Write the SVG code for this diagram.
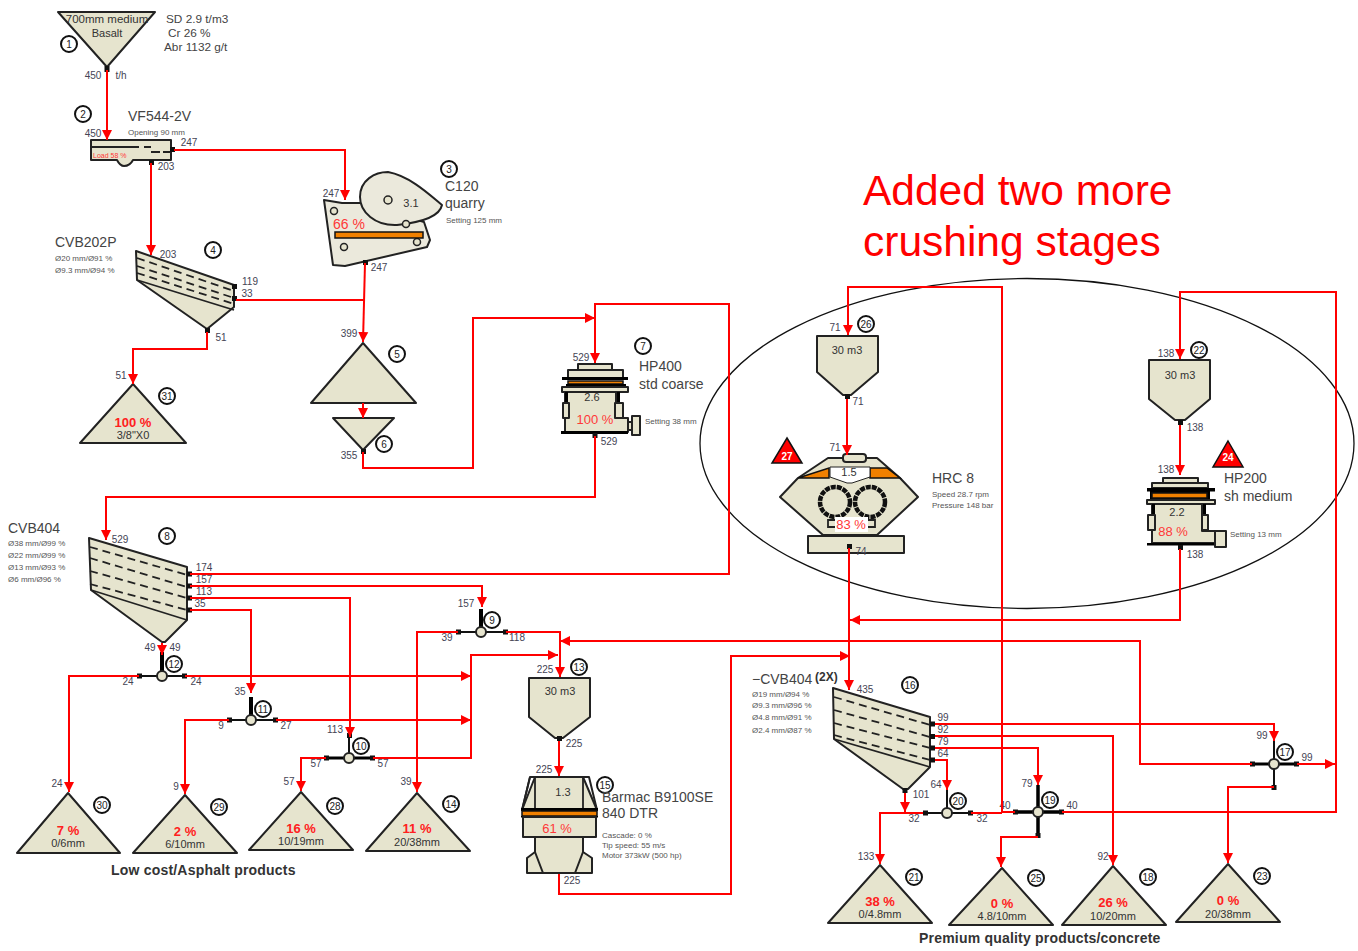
<svg xmlns="http://www.w3.org/2000/svg" width="1358" height="951" viewBox="0 0 1358 951">
<style>
text{font-family:"Liberation Sans",Arial,sans-serif;fill:#333}
.s{fill:#e6e4ce;stroke:#222;stroke-width:2;stroke-linejoin:round}
.m{fill:#ebe9dc;stroke:#222;stroke-width:2;stroke-linejoin:round}
.k{fill:#000}
.o{fill:#f08000;stroke:#111;stroke-width:1.5}
.p{fill:#111}
.d{fill:none;stroke:#222;stroke-width:1.8;stroke-dasharray:8 5}
.t{fill:none;stroke:#222;stroke-width:1.8}
.a{fill:none;stroke:#111;stroke-width:2}
.h{fill:none;stroke:#000;stroke-width:4}
.hole{fill:#e6e4ce;stroke:#222;stroke-width:1.5}
.n{fill:#fff;stroke:#111;stroke-width:2}
.nt{font-size:10px;text-anchor:middle;fill:#222}
.l{font-size:10px;text-anchor:middle;fill:#445}
.t12{font-size:14px;fill:#444}
.t10{font-size:11.8px;fill:#444}
.t6{font-size:8px;fill:#555}
.v{font-size:11px;text-anchor:middle;fill:#333}
.pct{font-size:13px;font-weight:bold;text-anchor:middle;fill:#ff2020}
.pl{font-size:13px;text-anchor:middle;fill:#ff3838}
.b{font-size:14px;font-weight:bold;fill:#333;letter-spacing:.2px}
.b2{font-size:12px;font-weight:bold;fill:#333}
.w{font-size:10px;text-anchor:middle;fill:#fff;font-weight:bold}
.c{fill:none;stroke:#ff0000;stroke-width:2;marker-end:url(#ar)}
.f{fill:none;stroke:#ff0000;stroke-width:2}
</style>
<defs>
<marker id="ar" markerUnits="userSpaceOnUse" markerWidth="11" markerHeight="11" viewBox="0 0 11 11" refX="10" refY="5.5" orient="auto"><path d="M0 0.5L10 5.5L0 10.5Z" fill="#ff0000"/></marker>
</defs>

<g id="annotation">
<ellipse cx="1027" cy="443.5" rx="327" ry="165" fill="none" stroke="#111" stroke-width="1.3"/>
<text x="863" y="205" font-size="42.500" style="fill:#ff0000">Added two more</text>
<text x="863" y="256" font-size="42.500" style="fill:#ff0000">crushing stages</text>
<text x="111" y="875" class="b">Low cost/Asphalt products</text>
<text x="919" y="943" class="b">Premium quality products/concrete</text>
</g>

<g id="n1"><polygon class="s" points="58,12 155,12 107,67"/><rect class="p" x="104.500" y="66" width="5" height="6"/>
<text x="107" y="23" class="v" style="font-size:11.5px">700mm medium</text><text x="107" y="37" class="v">Basalt</text>
<circle class="n" cx="69" cy="44" r="8"/><text x="69" y="48" class="nt">1</text>
<text x="166" y="23" class="t10">SD 2.9 t/m3</text><text x="168" y="37" class="t10">Cr 26 %</text><text x="164" y="51" class="t10">Abr 1132 g/t</text>
<text x="93" y="79" class="l">450</text><text x="121" y="79" class="l">t/h</text></g>

<g id="n2"><path class="s" d="M91 140H171V160H133Q130 166 124 166Q120 166 117 160H91Z"/>
<path class="t" d="M92 147H139M144 147H151M151 152H160M163 152H170"/>
<rect class="p" x="170" y="147" width="5" height="5"/><rect class="p" x="149" y="160" width="5" height="5"/>
<text x="93" y="158" font-size="7" style="fill:#ff3838">Load 58 %</text>
<circle class="n" cx="83" cy="114" r="8"/><text x="83" y="118" class="nt">2</text>
<text x="128" y="121" class="t12">VF544-2V</text><text x="128" y="135" class="t6">Opening 90 mm</text>
<text x="93" y="137" class="l">450</text><text x="189" y="146" class="l">247</text><text x="166" y="170" class="l">203</text></g>

<g id="n3"><polygon class="m" points="324,200 342,203 362,203 424,222 430,240 427,247 345,266 333,265"/>
<path class="m" d="M360 197C360 180 375 172 388 172C410 176 430 195 442 205C440 215 425 222 397 225C375 226 360 212 360 197Z"/>
<circle class="hole" cx="334" cy="211" r="3.500"/><circle class="hole" cx="344" cy="247" r="3.500"/><circle class="hole" cx="388" cy="200" r="4"/><circle class="hole" cx="406" cy="224" r="3.500"/><circle class="hole" cx="417" cy="242" r="3.500"/>
<rect class="o" x="335" y="232" width="88" height="6"/>
<rect class="p" x="363" y="260" width="5" height="5"/>
<text x="411" y="207" class="v">3.1</text><text x="349" y="229" class="pl" style="font-size:14px">66 %</text>
<circle class="n" cx="449" cy="169" r="8"/><text x="449" y="173" class="nt">3</text>
<text x="445" y="191" class="t12">C120</text><text x="445" y="208" class="t12">quarry</text><text x="446" y="223" class="t6">Setting 125 mm</text>
<text x="331" y="197" class="l">247</text><text x="379" y="271" class="l">247</text></g>

<g id="n4"><polygon class="s" points="136,251 234,285 234,307 207,329 137,280"/>
<path class="d" d="M137 258L234 291M137 266L234 298M137 273L234 304"/><path class="t" d="M137 280L234 310"/>
<rect class="p" x="232" y="284" width="5" height="5"/><rect class="p" x="232" y="296" width="5" height="5"/><rect class="p" x="205" y="328" width="5" height="5"/>
<circle class="n" cx="213" cy="250" r="8"/><text x="213" y="254" class="nt">4</text>
<text x="55" y="247" class="t12">CVB202P</text><text x="55" y="261" class="t6">Ø20 mm/Ø91 %</text><text x="55" y="273" class="t6">Ø9.3 mm/Ø94 %</text>
<text x="168" y="258" class="l">203</text><text x="250" y="285" class="l">119</text><text x="247" y="297" class="l">33</text><text x="221" y="341" class="l">51</text></g>

<g id="n31"><polygon class="s" points="133,384 186,443 80,443"/><text x="133" y="427" class="pct">100 %</text><text x="133" y="439" class="v">3/8"X0</text>
<circle class="n" cx="167" cy="396" r="8"/><text x="167" y="400" class="nt">31</text><text x="121" y="379" class="l">51</text></g>

<g id="n5"><polygon class="s" points="363,343 416,403 311,403"/><circle class="n" cx="397" cy="354" r="8"/><text x="397" y="358" class="nt">5</text><text x="349" y="337" class="l">399</text></g>
<g id="n6"><polygon class="s" points="333,418 394,418 363,450"/><rect class="p" x="361" y="449" width="5" height="5"/><circle class="n" cx="384" cy="444" r="8"/><text x="384" y="448" class="nt">6</text><text x="349" y="459" class="l">355</text></g>

<g id="n7"><path class="s" d="M565 392H616V418H628V432H565Z"/>
<rect class="s" x="578" y="364" width="34" height="6"/><rect class="s" x="568" y="370" width="55" height="8"/>
<rect class="k" x="562" y="377" width="66" height="3"/><rect class="o" x="568" y="381" width="55" height="3"/><rect class="k" x="566" y="384" width="60" height="3"/>
<rect class="s" x="562" y="387" width="66" height="5"/><rect class="k" x="561" y="431" width="67" height="3"/>
<rect class="k" x="565" y="392" width="3" height="11"/><rect class="k" x="617" y="392" width="3" height="11"/>
<rect class="s" x="563" y="403" width="6" height="15"/><rect class="s" x="615" y="403" width="8" height="15"/>
<rect class="s" x="628" y="422" width="4" height="8"/><rect class="s" x="632" y="416" width="8" height="19"/>
<rect class="p" x="592.500" y="433" width="5" height="5"/>
<text x="592" y="401" class="v">2.6</text><text x="595" y="424" class="pl">100 %</text>
<circle class="n" cx="643" cy="346" r="8"/><text x="643" y="350" class="nt">7</text>
<text x="639" y="371" class="t12">HP400</text><text x="639" y="389" class="t12">std coarse</text><text x="645" y="424" class="t6">Setting 38 mm</text>
<text x="581" y="361" class="l">529</text><text x="609" y="445" class="l">529</text></g>

<g id="n8"><polygon class="s" points="89,538 187,567 187,620 165,642 162,642 91,590"/>
<path class="d" d="M90 547L187 575M90 558L187 587M90 571L187 598M90 584L187 610"/><path class="t" d="M91 590L187 620"/>
<rect class="p" x="187" y="571.500" width="5" height="5"/><rect class="p" x="187" y="583.500" width="5" height="5"/><rect class="p" x="187" y="595.500" width="5" height="5"/><rect class="p" x="187" y="607.500" width="5" height="5"/>
<circle class="n" cx="167" cy="536" r="8"/><text x="167" y="540" class="nt">8</text>
<text x="8" y="533" class="t12">CVB404</text><text x="8" y="546" class="t6">Ø38 mm/Ø99 %</text><text x="8" y="558" class="t6">Ø22 mm/Ø99 %</text><text x="8" y="570" class="t6">Ø13 mm/Ø93 %</text><text x="8" y="582" class="t6">Ø6 mm/Ø96 %</text>
<text x="120" y="543" class="l">529</text><text x="204" y="571" class="l">174</text><text x="204" y="583" class="l">157</text><text x="204" y="595" class="l">113</text><text x="200" y="607" class="l">35</text></g>

<g id="n12"><path class="h" d="M162 652V672"/><path class="a" d="M139 676H184"/><circle class="s" cx="162" cy="676" r="5"/><rect class="p" x="137" y="673.500" width="5" height="5"/><rect class="p" x="182" y="673.500" width="5" height="5"/>
<circle class="n" cx="174" cy="664" r="8"/><text x="174" y="668" class="nt">12</text>
<text x="150" y="651" class="l">49</text><text x="175" y="651" class="l">49</text><text x="128" y="685" class="l">24</text><text x="196" y="685" class="l">24</text></g>

<g id="n11"><path class="h" d="M251 697V716"/><path class="a" d="M229 720H275"/><circle class="s" cx="251" cy="720" r="5"/><rect class="p" x="227" y="717.500" width="5" height="5"/><rect class="p" x="273" y="717.500" width="5" height="5"/>
<circle class="n" cx="263" cy="709" r="8"/><text x="263" y="713" class="nt">11</text>
<text x="240" y="695" class="l">35</text><text x="221" y="729" class="l">9</text><text x="286" y="729" class="l">27</text></g>

<g id="n10"><path class="a" d="M349 735V754"/><path class="h" d="M326 758H372" style="stroke-width:3"/><circle class="s" cx="349" cy="758" r="5"/><rect class="p" x="324" y="755.500" width="5" height="5"/><rect class="p" x="370" y="755.500" width="5" height="5"/><rect class="p" x="347" y="733" width="5" height="5"/>
<circle class="n" cx="361" cy="746" r="8"/><text x="361" y="750" class="nt">10</text>
<text x="335" y="733" class="l">113</text><text x="316" y="767" class="l">57</text><text x="383" y="767" class="l">57</text></g>

<g id="n9"><path class="h" d="M481 609V628"/><path class="a" d="M458 632H505"/><circle class="s" cx="481" cy="632" r="5"/><rect class="p" x="456" y="629.500" width="5" height="5"/><rect class="p" x="503" y="629.500" width="5" height="5"/>
<circle class="n" cx="492" cy="620" r="8"/><text x="492" y="624" class="nt">9</text>
<text x="466" y="607" class="l">157</text><text x="447" y="641" class="l">39</text><text x="517" y="641" class="l">118</text></g>

<g id="n30"><polygon class="s" points="68,793 120,853 17,853"/><text x="68" y="835" class="pct">7 %</text><text x="68" y="847" class="v">0/6mm</text><circle class="n" cx="102" cy="805" r="8"/><text x="102" y="809" class="nt">30</text><text x="57" y="787" class="l">24</text></g>
<g id="n29"><polygon class="s" points="185,795 237,853 133,853"/><text x="185" y="836" class="pct">2 %</text><text x="185" y="848" class="v">6/10mm</text><circle class="n" cx="219" cy="807" r="8"/><text x="219" y="811" class="nt">29</text><text x="176" y="790" class="l">9</text></g>
<g id="n28"><polygon class="s" points="301,792 353,850 249,850"/><text x="301" y="833" class="pct">16 %</text><text x="301" y="845" class="v">10/19mm</text><circle class="n" cx="335" cy="806" r="8"/><text x="335" y="810" class="nt">28</text><text x="289" y="785" class="l">57</text></g>
<g id="n14"><polygon class="s" points="417,793 470,851 366,851"/><text x="417" y="833" class="pct">11 %</text><text x="417" y="846" class="v">20/38mm</text><circle class="n" cx="451" cy="804" r="8"/><text x="451" y="808" class="nt">14</text><text x="406" y="785" class="l">39</text></g>

<g id="n13"><polygon class="s" points="529,678 590,678 590,717 563,738 555,738 529,717"/><text x="560" y="695" class="v">30 m3</text><rect class="p" x="557" y="736" width="5" height="5"/>
<circle class="n" cx="579" cy="667" r="8"/><text x="579" y="671" class="nt">13</text><text x="545" y="673" class="l">225</text><text x="574" y="747" class="l">225</text></g>

<g id="n15"><polygon class="s" points="535,777 583,777 597,810 522,810"/><path class="t" d="M530 777L522 810M535 777V810M583 777V810"/><path class="s" d="M530 777H589L597 810H522Z" style="fill:none"/>
<rect class="k" x="521" y="808" width="77" height="3"/><rect class="o" x="522" y="811" width="75" height="5"/><rect class="k" x="521" y="816" width="77" height="1.500"/>
<rect class="s" x="523" y="817" width="73" height="20"/>
<polygon class="s" points="527,873 527,858 535,852 583,852 592,858 592,873"/><polygon class="s" points="535,837 583,837 583,852 575,873 543,873 535,852"/>
<text x="563" y="796" class="v">1.3</text><text x="557" y="833" class="pl">61 %</text>
<circle class="n" cx="605" cy="785" r="8"/><text x="605" y="789" class="nt">15</text>
<text x="602" y="802" class="t12">Barmac B9100SE</text><text x="602" y="818" class="t12">840 DTR</text>
<text x="602" y="838" class="t6">Cascade: 0 %</text><text x="602" y="848" class="t6">Tip speed: 55 m/s</text><text x="602" y="858" class="t6">Motor 373kW (500 hp)</text>
<text x="544" y="773" class="l">225</text><text x="572" y="884" class="l">225</text></g>

<g id="n26"><polygon class="s" points="817,336 878,336 878,372 851,395 843,395 817,372"/><text x="847" y="354" class="v">30 m3</text><rect class="p" x="845" y="394" width="5" height="5"/>
<circle class="n" cx="866" cy="324" r="8"/><text x="866" y="328" class="nt">26</text><text x="835" y="331" class="l">71</text><text x="858" y="405" class="l">71</text></g>

<g id="n27"><polygon points="787,438 802,463 772,463" fill="#ff0000" stroke="#111" stroke-width="1.500"/><text x="787" y="460" class="w">27</text>
<path class="s" d="M828 458H877L900 478L918 497L877 535H823L780 497L798 478Z"/>
<polygon class="o" points="798,478 829,468 829,478"/><polygon class="o" points="870,468 887,468 900,478 870,478"/>
<polygon points="830,467 870,467 870,477 852,483 847,483 830,477" fill="#fff" stroke="#222" stroke-width="1"/><text x="849" y="476" class="v">1.5</text>
<rect class="s" x="843" y="454" width="23" height="8" rx="3"/>
<circle cx="835" cy="502" r="15" fill="none" stroke="#111" stroke-width="4.500" stroke-dasharray="5 1"/><circle cx="870" cy="502" r="15" fill="none" stroke="#111" stroke-width="4.500" stroke-dasharray="5 1"/>
<rect x="835" y="517" width="33" height="15" fill="#fff"/><path class="t" d="M835 520H828V527H835M868 520H875V527H868"/><text x="851" y="529" class="pl">83 %</text>
<rect class="s" x="808" y="536" width="96" height="17"/><rect class="p" x="847" y="544" width="5" height="5"/>
<text x="932" y="483" class="t12">HRC 8</text><text x="932" y="497" class="t6">Speed 28.7 rpm</text><text x="932" y="508" class="t6">Pressure 148 bar</text>
<text x="835" y="451" class="l">71</text><text x="861" y="555" class="l">74</text></g>

<g id="n22"><polygon class="s" points="1149,360 1210,360 1210,399 1185,420 1175,420 1149,399"/><text x="1180" y="379" class="v">30 m3</text><rect class="p" x="1178" y="420" width="5" height="5"/>
<circle class="n" cx="1199" cy="350" r="8"/><text x="1199" y="354" class="nt">22</text><text x="1166" y="357" class="l">138</text><text x="1195" y="431" class="l">138</text></g>

<g id="n24"><polygon points="1228,441 1243,467 1213,467" fill="#ff0000" stroke="#111" stroke-width="1.500"/><text x="1228" y="461" class="w">24</text>
<path class="s" d="M1152 504H1202V531H1215V543H1152Z"/>
<rect class="s" x="1163" y="478" width="35" height="5"/><rect class="s" x="1152" y="483" width="56" height="5"/>
<rect class="k" x="1147" y="488" width="68" height="3.500"/><rect class="k" x="1150" y="491" width="60" height="9"/><rect class="o" x="1152" y="493" width="55" height="5"/>
<rect class="s" x="1147" y="500" width="68" height="4"/><rect class="k" x="1147" y="543" width="68" height="2.500"/>
<rect class="k" x="1152" y="504" width="3" height="11"/><rect class="k" x="1203" y="504" width="3" height="11"/>
<rect class="s" x="1148" y="515" width="7" height="15"/><rect class="s" x="1202" y="515" width="6" height="15"/><rect class="s" x="1215" y="531" width="11" height="16"/>
<rect class="p" x="1178" y="545" width="5" height="5"/>
<text x="1177" y="516" class="v">2.2</text><text x="1173" y="536" class="pl">88 %</text>
<text x="1224" y="483" class="t12">HP200</text><text x="1224" y="501" class="t12">sh medium</text><text x="1230" y="537" class="t6">Setting 13 mm</text>
<text x="1166" y="473" class="l">138</text><text x="1195" y="558" class="l">138</text></g>

<g id="n16"><polygon class="s" points="833,688 930,717 930,767 908,789 903,789 834,739"/>
<path class="d" d="M834 697L930 725M834 710L930 737M834 723L930 748M834 735L930 760"/><path class="t" d="M834 739L930 767"/>
<rect class="p" x="930" y="721.500" width="5" height="5"/><rect class="p" x="930" y="734" width="5" height="5"/><rect class="p" x="930" y="745.500" width="5" height="5"/><rect class="p" x="930" y="757.500" width="5" height="5"/><rect class="p" x="902.500" y="788" width="5" height="5"/>
<circle class="n" cx="910" cy="685" r="8"/><text x="910" y="689" class="nt">16</text>
<text x="752" y="684" class="t12">−CVB404</text><text x="815" y="681" class="b2">(2X)</text>
<text x="752" y="697" class="t6">Ø19 mm/Ø94 %</text><text x="752" y="708" class="t6">Ø9.3 mm/Ø96 %</text><text x="752" y="720" class="t6">Ø4.8 mm/Ø91 %</text><text x="752" y="733" class="t6">Ø2.4 mm/Ø87 %</text>
<text x="865" y="693" class="l">435</text><text x="943" y="721" class="l">99</text><text x="943" y="733" class="l">92</text><text x="943" y="745" class="l">79</text><text x="943" y="757" class="l">64</text><text x="921" y="798" class="l">101</text></g>

<g id="n20"><path class="a" d="M947 790V809M925 813H970"/><circle class="s" cx="947" cy="813" r="5"/><rect class="p" x="923" y="810.500" width="5" height="5"/><rect class="p" x="968" y="810.500" width="5" height="5"/>
<circle class="n" cx="958" cy="801" r="8"/><text x="958" y="805" class="nt">20</text><text x="936" y="788" class="l">64</text><text x="914" y="822" class="l">32</text><text x="982" y="822" class="l">32</text></g>

<g id="n19"><path class="h" d="M1038 785V835M1015 812H1061" style="stroke-width:3.500"/><circle class="s" cx="1038" cy="812" r="5"/><rect class="p" x="1013" y="809.500" width="5" height="5"/><rect class="p" x="1059" y="809.500" width="5" height="5"/><rect class="p" x="1035.500" y="833" width="5" height="5"/>
<circle class="n" cx="1050" cy="800" r="8"/><text x="1050" y="804" class="nt">19</text><text x="1005" y="809" class="l">40</text><text x="1027" y="787" class="l">79</text><text x="1072" y="809" class="l">40</text></g>

<g id="n17"><path class="a" d="M1274 740V785"/><path class="h" d="M1252 764H1296" style="stroke-width:3"/><circle class="s" cx="1274" cy="764" r="5"/><rect class="p" x="1250" y="761.500" width="5" height="5"/><rect class="p" x="1294" y="761.500" width="5" height="5"/><rect class="p" x="1271.500" y="785" width="5" height="5"/>
<circle class="n" cx="1285" cy="752" r="8"/><text x="1285" y="756" class="nt">17</text><text x="1262" y="739" class="l">99</text><text x="1307" y="761" class="l">99</text></g>

<g id="n21"><polygon class="s" points="880,865 932,923 828,923"/><text x="880" y="906" class="pct">38 %</text><text x="880" y="918" class="v">0/4.8mm</text><circle class="n" cx="914" cy="877" r="8"/><text x="914" y="881" class="nt">21</text><text x="866" y="860" class="l">133</text></g>
<g id="n25"><polygon class="s" points="1002,868 1053,925 949,925"/><text x="1002" y="908" class="pct">0 %</text><text x="1002" y="920" class="v">4.8/10mm</text><circle class="n" cx="1036" cy="878" r="8"/><text x="1036" y="882" class="nt">25</text></g>
<g id="n18"><polygon class="s" points="1113,866 1166,925 1062,925"/><text x="1113" y="907" class="pct">26 %</text><text x="1113" y="920" class="v">10/20mm</text><circle class="n" cx="1148" cy="877" r="8"/><text x="1148" y="881" class="nt">18</text><text x="1103" y="860" class="l">92</text></g>
<g id="n23"><polygon class="s" points="1228,864 1280,922 1176,922"/><text x="1228" y="905" class="pct">0 %</text><text x="1228" y="918" class="v">20/38mm</text><circle class="n" cx="1262" cy="876" r="8"/><text x="1262" y="880" class="nt">23</text></g>

<g id="connectors">
<path class="c" d="M107 70V140"/>
<path class="c" d="M174 150H345V200"/>
<path class="c" d="M151 163V255"/>
<path class="c" d="M365 263L363 342"/>
<path class="f" d="M236 300H364"/>
<path class="c" d="M207 332V349H133V384"/>
<path class="c" d="M363 403V418"/>
<path class="c" d="M363 452V468H473V318H595"/>
<path class="c" d="M190 574H729V304H595V363"/>
<path class="c" d="M595 436V497H106V540"/>
<path class="c" d="M190 586H482V607"/>
<path class="c" d="M190 598H350V737"/>
<path class="c" d="M190 610H251V693"/>
<path class="c" d="M162 643V655"/>
<path class="c" d="M139 676H69V792"/>
<path class="c" d="M185 676H471"/>
<path class="c" d="M229 720H185V794"/>
<path class="c" d="M276 720H471"/>
<path class="c" d="M326 758H301V791"/>
<path class="c" d="M373 758H471V655H558"/>
<path class="c" d="M458 632H417V792"/>
<path class="c" d="M506 632H560V677"/>
<path class="c" d="M1252 764H1140V641H560"/>
<path class="c" d="M559 741V776"/>
<path class="c" d="M559 874V894H731V656H850"/>
<path class="c" d="M847 399V455"/>
<path class="c" d="M1015 812H1002V287H848V335"/>
<path class="f" d="M971 813H1002"/>
<path class="c" d="M849 548V690"/>
<path class="c" d="M1180 425V475"/>
<path class="c" d="M1180 549V620H850"/>
<path class="c" d="M1062 812H1336V292H1180V359"/>
<path class="c" d="M1297 764H1335"/>
<path class="c" d="M935 724H1274V741"/>
<path class="c" d="M935 736H1113V865"/>
<path class="c" d="M935 748H1038V785"/>
<path class="c" d="M935 760H947V790"/>
<path class="c" d="M905 793V812"/>
<path class="c" d="M923 813H880V864"/>
<path class="c" d="M1038 837H1001V867"/>
<path class="c" d="M1274 787H1228V863"/>
</g>
</svg>
